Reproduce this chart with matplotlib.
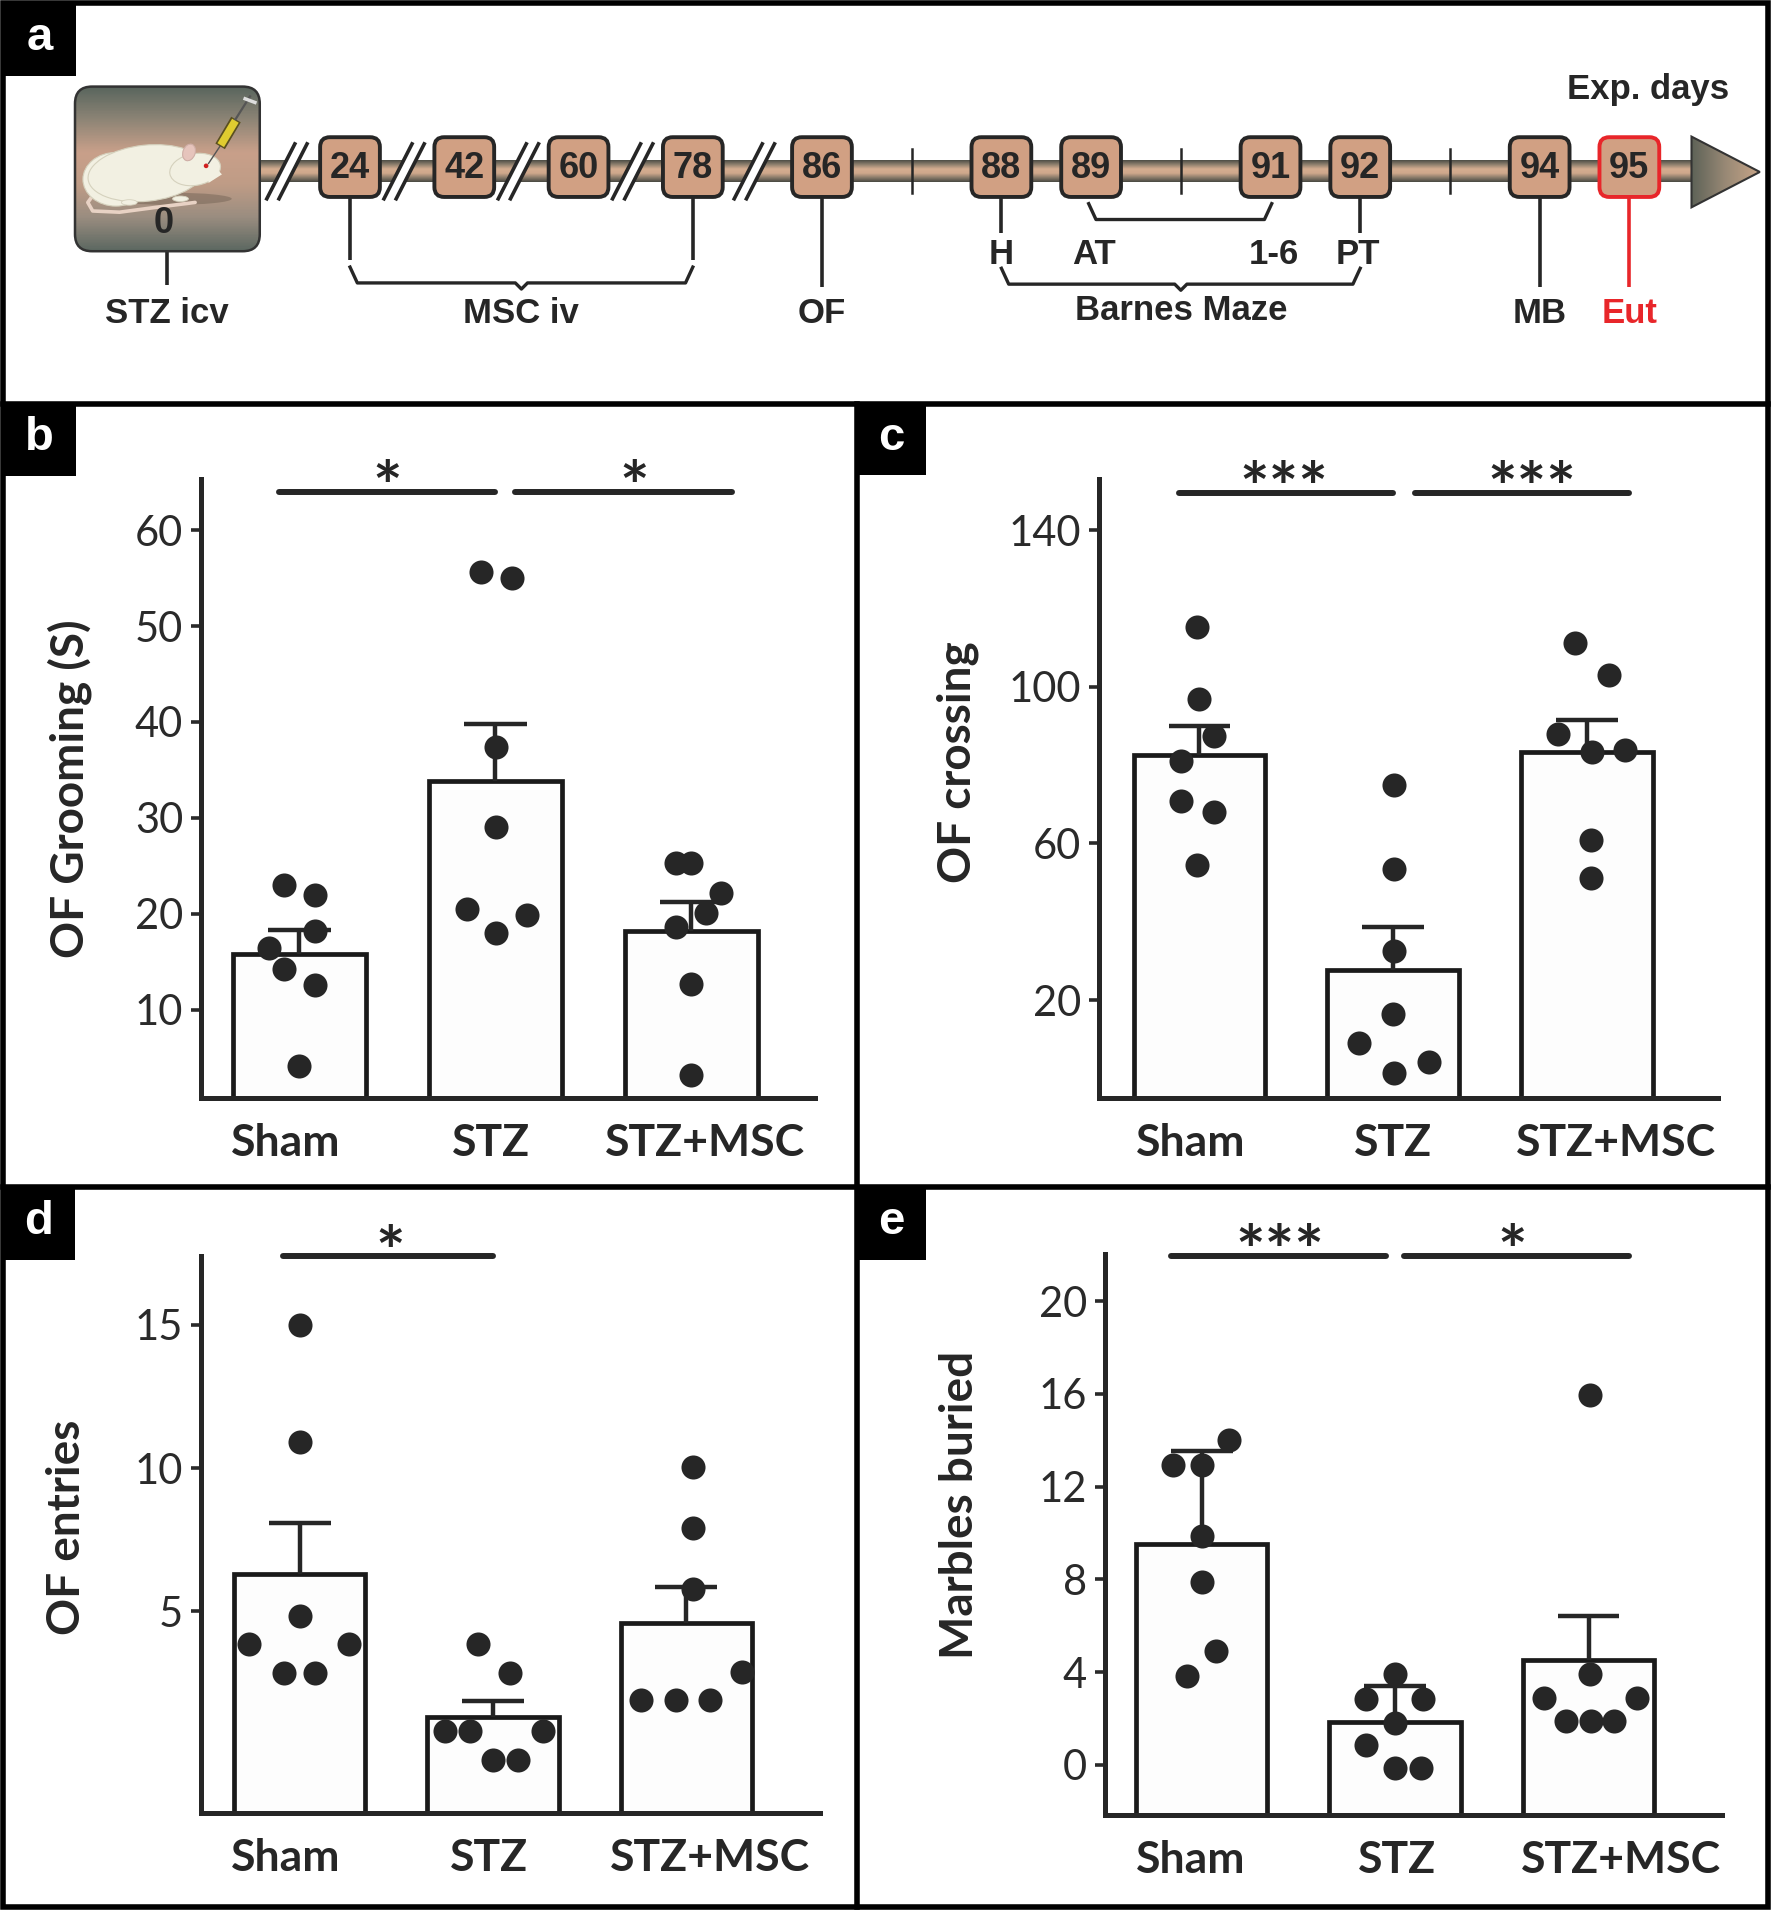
import numpy as np
import matplotlib.pyplot as plt
from matplotlib.patches import FancyBboxPatch, Rectangle, Polygon, Ellipse
from matplotlib.colors import LinearSegmentedColormap

plt.rcParams['font.family'] = ['Lato', 'DejaVu Sans']
ARIAL = ['Liberation Sans', 'DejaVu Sans']

# ==================== data ====================
groups = ['Sham', 'STZ', 'STZ+MSC']

# b: OF grooming (s)
groom_sham = [23.0, 22.0, 18.2, 16.4, 14.2, 12.6, 4.1]
groom_stz = [55.6, 55.0, 37.4, 29.1, 20.5, 19.9, 18.0]
groom_msc = [25.3, 25.3, 22.2, 20.1, 18.6, 12.7, 3.2]
groom_mean = [15.8, 33.8, 18.2]
groom_err = [2.5, 6.0, 3.0]

# c: OF crossing
cross_sham = [115.2, 96.9, 87.5, 81.0, 70.8, 68.0, 54.4]
cross_stz = [74.8, 53.5, 32.5, 16.4, 9.0, 4.3, 1.3]
cross_msc = [111.2, 103.0, 87.9, 83.4, 83.8, 60.8, 51.3]
cross_mean = [82.5, 27.8, 83.4]
cross_err = [7.6, 10.8, 8.0]

# d: OF entries
entry_sham = [15.0, 10.9, 4.85, 3.85, 3.85, 2.85, 2.85]
entry_stz = [3.85, 2.85, 0.83, 0.83, 0.83, -0.2, -0.2]
entry_msc = [10.05, 7.9, 5.8, 2.9, 1.9, 1.9, 1.9]
entry_mean = [6.3, 1.3, 4.6]
entry_err = [1.8, 0.57, 1.25]

# e: marbles buried
marb_sham = [14.0, 12.92, 12.92, 9.86, 7.9, 4.9, 3.84]
marb_stz = [3.9, 2.84, 2.84, 1.8, 0.86, -0.14, -0.14]
marb_msc = [15.96, 3.9, 2.9, 2.9, 1.9, 1.9, 1.9]
marb_mean = [9.54, 1.84, 4.52]
marb_err = [4.0, 1.56, 1.9]

# timeline (experiment days)
msc_days = [24, 42, 60, 78]
test_days = [86, 88, 89, 91, 92, 94, 95]
tick_days = [87, 90, 93]

# ==================== layout helpers ====================
W, H = 1772, 1911
RW, RH = 1453.0, 1567.0   # coordinates

fig = plt.figure(figsize=(W / 100, H / 100), dpi=100)


def rect(x0, y0, x1, y1):
    return [x0 / RW, 1 - y1 / RH, (x1 - x0) / RW, (y1 - y0) / RH]


INK = '#262626'

# ==================== panel a: timeline ====================
ax = fig.add_axes(rect(0, 0, RW, 330))
ax.axis('off')


def day_x(d):
    if d in msc_days:
        return 287 + 93.7 * msc_days.index(d)
    return 674 + 73.56 * (d - 86)


# main bar with gradient
bar_cmap = LinearSegmentedColormap.from_list(
    'bar', ['#4f4f47', '#8f806e', '#d4ad90', '#cfa88c', '#8a7b6a', '#4a4a43'])
grad = np.linspace(0, 1, 60).reshape(-1, 1)
ax.imshow(grad, cmap=bar_cmap, extent=[213, 1388, 149, 131], aspect='auto', zorder=1)

# arrow head
arr = Polygon([(1387, 112), (1387, 170), (1443, 141)], closed=True,
              fc='none', ec='#333333', lw=1.5, zorder=3)
ax.add_patch(arr)
arr_cmap = LinearSegmentedColormap.from_list('arr', ['#5f6358', '#9a8a76', '#c8a588'])
im = ax.imshow(np.linspace(0, 1, 60).reshape(1, -1), cmap=arr_cmap,
               extent=[1387, 1443, 170, 112], aspect='auto', zorder=2)
im.set_clip_path(arr)

# rat box
rat_box = FancyBboxPatch((61.5, 71), 151.5, 135, boxstyle='round,pad=0,rounding_size=14',
                         fc='none', ec='#333333', lw=1.8, zorder=4)
ax.add_patch(rat_box)
box_cmap = LinearSegmentedColormap.from_list(
    'box', ['#5a665e', '#8e8576', '#c9a08a', '#bf9c86', '#9a8d80', '#5e6962'])
im = ax.imshow(grad, cmap=box_cmap, extent=[61.5, 213, 206, 71], aspect='auto', zorder=3)
im.set_clip_path(rat_box)

# simple rat drawing
fur = '#f2f0e2'
edge = '#d5d1bd'
ax.add_patch(Ellipse((140, 163), 100, 10, fc='#6e5e50', alpha=0.45, lw=0, zorder=5))
ax.plot([80, 72, 76, 98, 128, 160], [155, 166, 173, 174, 170, 166],
        color='#e8d2c4', lw=2.6, solid_capstyle='round', zorder=5)
ax.add_patch(Ellipse((95, 147), 54, 44, fc=fur, ec=edge, lw=0.8, zorder=6))
ax.add_patch(Ellipse((120, 142), 96, 46, angle=-6, fc=fur, ec=edge, lw=0.8, zorder=6))
ax.add_patch(Ellipse((160, 139), 42, 26, angle=-10, fc=fur, ec=edge, lw=0.8, zorder=7))
ax.add_patch(Polygon([(170, 130), (182, 143), (171, 150)], fc=fur, ec='none', zorder=7))
ax.add_patch(Ellipse((155, 125), 10, 14, angle=20, fc='#e6c4bc', ec='#cfaea6', lw=0.8, zorder=8))
ax.add_patch(Ellipse((169, 136), 3.8, 3.8, fc='#d02020', lw=0, zorder=8))
ax.add_patch(Ellipse((106, 166), 13, 4.5, fc=fur, ec=edge, lw=0.6, zorder=6))
ax.add_patch(Ellipse((148, 163), 13, 4.5, fc=fur, ec=edge, lw=0.6, zorder=6))
# syringe
ax.plot([171, 181], [134, 119], color='#555555', lw=1.0, zorder=8)
ax.plot([180.5, 193.5], [120, 98], color='#5a5020', lw=8, solid_capstyle='butt', zorder=8)
ax.plot([181, 193], [119, 99], color='#e0cc30', lw=5.5, solid_capstyle='butt', zorder=9)
ax.plot([193, 205], [98, 79], color='#555555', lw=1.6, zorder=8)
ax.plot([201, 209], [81, 84], color='#dddddd', lw=2.5, zorder=9)
ax.text(134.5, 183, '0', family=ARIAL, fontsize=26, fontweight='bold', color=INK,
        ha='center', va='center', zorder=9)

# break marks between the spaced days
prev_edges = [213] + [day_x(d) + 24.5 for d in msc_days]
next_edges = [day_x(d) - 24.5 for d in msc_days] + [day_x(86) - 24.5]
for pe, ne in zip(prev_edges, next_edges):
    bx = (pe + ne) / 2 - 3
    ax.add_patch(Polygon([(bx - 16, 163), (bx - 6, 163), (bx + 17, 118), (bx + 7, 118)],
                         fc='white', ec='none', zorder=4))
    ax.plot([bx - 16, bx + 7], [163, 118], color=INK, lw=2.6, zorder=5)
    ax.plot([bx - 6, bx + 17], [163, 118], color=INK, lw=2.6, zorder=5)

for d in tick_days:
    ax.plot([day_x(d)] * 2, [122, 158], color=INK, lw=1.8, zorder=2)

# day boxes
for d in msc_days + test_days:
    x = day_x(d)
    ec = '#e8262a' if d == 95 else INK
    ax.add_patch(FancyBboxPatch((x - 24.5, 112.5), 49, 49,
                                boxstyle='round,pad=0,rounding_size=8',
                                fc='#d1a083', ec=ec, lw=2.8, zorder=6))
    ax.text(x, 138, str(d), family=ARIAL, fontsize=26, fontweight='bold', color=INK,
            ha='center', va='center', zorder=7)


def vline(x, y0, y1, c=INK):
    ax.plot([x, x], [y0, y1], color=c, lw=2.6, zorder=2, solid_capstyle='butt')


def bracket(x0, x1, y_end, y_bar, notch=True, c=INK):
    mid = (x0 + x1) / 2
    xs = [x0, x0 + 6, mid - 5, mid, mid + 5, x1 - 6, x1] if notch else [x0, x0 + 6, x1 - 6, x1]
    ys = [y_end, y_bar, y_bar, y_bar + 5, y_bar, y_bar, y_end] if notch else [y_end, y_bar, y_bar, y_end]
    ax.plot(xs, ys, color=c, lw=2.4, zorder=2)


vline(137, 206, 234)
vline(day_x(24), 162, 213)
vline(day_x(78), 162, 213)
bracket(day_x(24), day_x(78), 219, 232)
vline(day_x(86), 162, 235)
vline(day_x(88), 162, 191)
vline(day_x(92), 162, 191)
bracket(day_x(89) - 2, day_x(91) + 1, 167, 180, notch=False)
bracket(day_x(88), day_x(92), 220, 233)
vline(day_x(94), 162, 235)
vline(day_x(95), 162, 235, c='#e8262a')

lab = dict(family=ARIAL, fontsize=25, fontweight='bold', color=INK, ha='center', va='center')
ax.text(137, 257, 'STZ icv', **lab)
ax.text((day_x(24) + day_x(78)) / 2, 257, 'MSC iv', **lab)
ax.text(day_x(86), 257, 'OF', **lab)
ax.text(day_x(88), 209, 'H', **lab)
ax.text(day_x(89) + 2, 209, 'AT', **lab)
ax.text(day_x(91) + 3, 209, '1-6', **lab)
ax.text(day_x(92) - 2, 209, 'PT', **lab)
ax.text(day_x(90), 255, 'Barnes Maze', **lab)
ax.text(day_x(94), 257, 'MB', **lab)
lab_red = dict(lab, color='#e8262a')
ax.text(day_x(95), 257, 'Eut', **lab_red)
ax.text(1351, 73, 'Exp. days', **lab)

ax.set_xlim(0, RW)
ax.set_ylim(330, 0)


# ==================== panels b-e: bar charts ====================
def bar_panel(box, pts, means, errs, jits, lab_shift, xlim, ylim, yticks, ylab, ylab_xy, sigs):
    ax = fig.add_axes(rect(*box))
    x = np.arange(len(groups))
    means = np.array(means)
    errs = np.array(errs)
    ax.bar(x, means - ylim[0], bottom=ylim[0], width=0.68, color='#fdfdfd',
           edgecolor='#1a1a1a', linewidth=3.4, zorder=1)
    ax.vlines(x, means, means + errs, color=INK, lw=3.2, zorder=2)
    ax.hlines(means + errs, x - 0.16, x + 0.16, color=INK, lw=3.2, zorder=2)
    for i in range(len(groups)):
        ax.scatter(i + np.array(jits[i]), pts[i], s=300, color=INK, linewidths=0,
                   zorder=3, clip_on=False)
    ax.set_xlim(*xlim)
    ax.set_ylim(*ylim)
    for s in ['top', 'right']:
        ax.spines[s].set_visible(False)
    for s in ['left', 'bottom']:
        ax.spines[s].set_linewidth(3.6)
        ax.spines[s].set_color(INK)
    ax.set_xticks(x + np.array(lab_shift), groups, fontsize=32, fontweight='bold')
    ax.set_yticks(yticks)
    ax.set_yticklabels([str(t) for t in yticks], fontsize=30)
    ax.tick_params(axis='x', length=0, pad=18, colors=INK)
    ax.tick_params(axis='y', length=7, width=2.6, pad=6, colors='#2a2a2a')
    fig.text(ylab_xy[0] / RW, 1 - ylab_xy[1] / RH, ylab, rotation=90, fontsize=33,
             fontweight='bold', color=INK, ha='center', va='center')
    for x0, x1, y, txt, tx in sigs:
        ax.plot([x0, x1], [y, y], color=INK, lw=4.3, solid_capstyle='round', clip_on=False)
        ax.annotate(txt, (tx, y), xytext=(0, -14), textcoords='offset points',
                    ha='center', va='baseline', fontsize=50, fontweight='bold',
                    color=INK, annotation_clip=False)
    return ax


bar_panel((165, 393, 668, 900), [groom_sham, groom_stz, groom_msc], groom_mean, groom_err,
          [[-0.08, 0.08, 0.08, -0.155, -0.08, 0.08, 0.0],
           [-0.07, 0.085, 0.005, 0.005, -0.146, 0.16, 0.005],
           [-0.079, 0.0, 0.152, 0.076, -0.079, 0.0, 0.0]],
          [-0.07, -0.02, 0.07],
          (-0.5, 2.63), (0.84, 65.3), [10, 20, 30, 40, 50, 60], 'OF Grooming (S)', (57, 647),
          [(-0.104, 1.0, 64.0, '*', 0.45), (1.099, 2.21, 64.0, '*', 1.71)])

bar_panel((901, 393, 1409, 900), [cross_sham, cross_stz, cross_msc], cross_mean, cross_err,
          [[-0.015, 0.0, 0.073, -0.094, -0.097, 0.073, -0.015],
           [0.006, 0.003, 0.003, 0.0, -0.176, 0.188, 0.006],
           [-0.06, 0.115, -0.148, 0.027, 0.2, 0.024, 0.024]],
          [-0.045, 0.0, 0.15],
          (-0.52, 2.68), (-4.9, 153), [20, 60, 100, 140], 'OF crossing', (785, 625),
          [(-0.106, 1.0, 149.6, '***', 0.436), (1.112, 2.218, 149.6, '***', 1.718)])

bar_panel((165, 1030, 672, 1487), [entry_sham, entry_stz, entry_msc], entry_mean, entry_err,
          [[0.0, 0.0, 0.0, -0.264, 0.253, -0.08, 0.08],
           [-0.08, 0.09, -0.25, -0.12, 0.26, 0.0, 0.13],
           [0.037, 0.037, 0.037, 0.287, -0.233, -0.054, 0.122]],
          [-0.075, -0.02, 0.125],
          (-0.51, 2.69), (-2.05, 17.4), [5, 10, 15], 'OF entries', (55, 1252),
          [(-0.088, 1.0, 17.4, '*', 0.47)])

bar_panel((906, 1028, 1412, 1488), [marb_sham, marb_stz, marb_msc], marb_mean, marb_err,
          [[0.14, -0.15, 0.0, 0.0, 0.0, 0.075, -0.075],
           [0.0, -0.15, 0.144, 0.0, -0.15, 0.0, 0.135],
           [0.006, 0.006, -0.23, 0.25, -0.115, 0.012, 0.13]],
          [-0.056, 0.01, 0.17],
          (-0.5, 2.69), (-2.15, 22.05), [0, 4, 8, 12, 16, 20], 'Marbles buried', (787, 1234),
          [(-0.16, 0.955, 21.96, '***', 0.405), (1.045, 2.207, 21.96, '*', 1.607)])

# ==================== frame, dividers, panel letters ====================
ov = fig.add_axes([0, 0, 1, 1], zorder=10)
ov.set_xlim(0, W)
ov.set_ylim(H, 0)
ov.axis('off')
ov.patch.set_alpha(0)
ov.add_patch(Rectangle((3, 3), 1765, 1904, fill=False, ec='black', lw=4))
ov.plot([3, 1768], [404, 404], color='black', lw=4)
ov.plot([3, 1768], [1187, 1187], color='black', lw=4)
ov.plot([857, 857], [404, 1907], color='black', lw=4)

letters = [('a', 3, 3, 76, 76), ('b', 3, 404, 76, 476), ('c', 857, 404, 926, 475),
           ('d', 3, 1187, 75, 1260), ('e', 857, 1187, 926, 1260)]
for t, x0, y0, x1, y1 in letters:
    ov.add_patch(Rectangle((x0, y0), x1 - x0, y1 - y0, fc='black', ec='black', lw=0))
    ov.text((x0 + x1) / 2, (y0 + y1) / 2 - 2, t, family=ARIAL, fontsize=34,
            fontweight='bold', color='white', ha='center', va='center')

fig.savefig('out.png', dpi=100)
